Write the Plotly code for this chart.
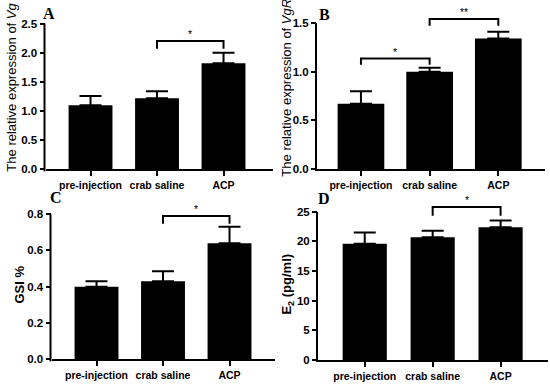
import plotly.graph_objects as go

# ---------------- data ----------------
groups = ["pre-injection", "crab saline", "ACP"]

vg_mean = [1.10, 1.22, 1.82]
vg_err = [0.16, 0.12, 0.18]

vgr_mean = [0.67, 1.00, 1.34]
vgr_err = [0.13, 0.04, 0.07]

gsi_mean = [0.40, 0.43, 0.64]
gsi_err = [0.03, 0.055, 0.09]

e2_mean = [19.6, 20.7, 22.4]
e2_err = [1.9, 1.1, 1.1]

# significance brackets: (from group, to group, bracket level, end level, label)
vg_sig = [(1, 2, 2.20, 2.07, "*")]
vgr_sig = [(0, 1, 1.135, 1.07, "*"), (1, 2, 1.54, 1.47, "**")]
gsi_sig = [(1, 2, 0.79, 0.747, "*")]
e2_sig = [(1, 2, 25.8, 24.3, "*")]

panel_letters = ["A", "B", "C", "D"]
y_titles = [
    "The relative expression of <i>Vg</i>",
    "The relative expression of <i>VgR</i>",
    "<b>GSI %</b>",
    "<b>E<sub>2</sub> (pg/ml)</b>",
]

# ---------------- layout geometry (pixels) ----------------
W, H = 550, 390
panels = [
    dict(mean=vg_mean, err=vg_err, sig=vg_sig, x_px=(45.5, 273), zero_px=172, top_px=24,
         top_val=2.5, rmax=2.85, dtick=0.5, fmt=".1f", xr=(-0.677, 2.744), bw=0.66,
         letter_px=(49, 14), title_px=(12, 89)),
    dict(mean=vgr_mean, err=vgr_err, sig=vgr_sig, x_px=(317, 545), zero_px=171.7, top_px=23.3,
         top_val=1.5, rmax=1.72, dtick=0.5, fmt=".1f", xr=(-0.64, 2.68), bw=0.68,
         letter_px=(324, 14.5), title_px=(287, 89)),
    dict(mean=gsi_mean, err=gsi_err, sig=gsi_sig, x_px=(51.5, 275), zero_px=365, top_px=217.5,
         top_val=0.8, rmax=0.9, dtick=0.2, fmt=".1f", xr=(-0.677, 2.684), bw=0.66,
         letter_px=(56, 201), title_px=(20, 289)),
    dict(mean=e2_mean, err=e2_err, sig=e2_sig, x_px=(318, 548), zero_px=365.7, top_px=215,
         top_val=25, rmax=28, dtick=5, fmt="d", xr=(-0.688, 2.698), bw=0.65,
         letter_px=(324, 202), title_px=(288, 289)),
]

FONT = "Liberation Sans, Arial, sans-serif"
fig = go.Figure()
annotations = []
shapes = []
layout_axes = {}

for k, p in enumerate(panels, start=1):
    xa = "x" if k == 1 else f"x{k}"
    ya = "y" if k == 1 else f"y{k}"
    xname = "xaxis" if k == 1 else f"xaxis{k}"
    yname = "yaxis" if k == 1 else f"yaxis{k}"

    fig.add_trace(go.Bar(
        x=groups, y=p["mean"], width=p["bw"],
        marker=dict(color="black", line=dict(width=0)),
        error_y=dict(type="data", array=p["err"], arrayminus=[0] * len(p["err"]),
                     symmetric=False, color="black", thickness=2, width=11),
        xaxis=xa, yaxis=ya, showlegend=False, hoverinfo="skip",
    ))

    for (i, j, yl, ye, lab) in p["sig"]:
        fig.add_trace(go.Scatter(
            x=[groups[i], groups[i], groups[j], groups[j]], y=[ye, yl, yl, ye],
            mode="lines", line=dict(color="black", width=2),
            xaxis=xa, yaxis=ya, showlegend=False, hoverinfo="skip",
        ))
        annotations.append(dict(
            x=(i + j) / 2, y=yl, xref=xa, yref=ya, text=lab, showarrow=False,
            yanchor="bottom", yshift=-1, font=dict(family=FONT, size=10.5, color="#000000"),
        ))

    scale = (p["zero_px"] - p["top_px"]) / p["top_val"]
    top_px = p["zero_px"] - p["rmax"] * scale
    x0f, x1f = p["x_px"][0] / W, p["x_px"][1] / W
    y0f, y1f = 1 - p["zero_px"] / H, 1 - top_px / H

    layout_axes[xname] = dict(
        domain=[x0f, x1f], range=list(p["xr"]), anchor=ya, type="category",
        showline=True, linecolor="black", linewidth=2, showgrid=False, zeroline=False,
        ticks="outside", ticklen=5, tickwidth=1.5, tickcolor="black",
        tickfont=dict(family=FONT, size=10.5, color="black", weight="bold"),
        fixedrange=True,
    )
    layout_axes[yname] = dict(
        domain=[y0f, y1f], range=[0, p["rmax"]], anchor=xa,
        tickmode="linear", tick0=0, dtick=p["dtick"], tickformat=p["fmt"],
        showline=False, showgrid=False, zeroline=False,
        ticks="outside", ticklen=5, tickwidth=1.5, tickcolor="black",
        tickfont=dict(family=FONT, size=11.5, color="black", weight="bold"),
        fixedrange=True,
    )
    # y-axis line: only from 0 up to the top tick (axis chrome, paper coordinates)
    lx_f = (p["x_px"][0] - 1) / W
    shapes.append(dict(
        type="line", xref="paper", yref="paper", x0=lx_f, x1=lx_f,
        y0=1 - (p["zero_px"] + 2) / H, y1=1 - p["top_px"] / H,
        line=dict(color="black", width=2), layer="above",
    ))

    lx, ly = p["letter_px"]
    annotations.append(dict(
        x=lx / W, y=1 - ly / H, xref="paper", yref="paper", text=f"<b>{panel_letters[k-1]}</b>",
        showarrow=False, xanchor="center", yanchor="middle",
        font=dict(family="Liberation Serif, Times New Roman, serif", size=16, color="black"),
    ))
    tx, ty = p["title_px"]
    annotations.append(dict(
        x=tx / W, y=1 - ty / H, xref="paper", yref="paper", text=y_titles[k-1],
        showarrow=False, xanchor="center", yanchor="middle", textangle=-90,
        font=dict(family=FONT, size=13, color="black"),
    ))

fig.update_layout(
    width=W, height=H, margin=dict(l=0, r=0, t=0, b=0),
    paper_bgcolor="white", plot_bgcolor="white",
    annotations=annotations, shapes=shapes, bargap=0.3,
    **layout_axes,
)

fig.write_html("out.html", config={"displayModeBar": False},
               post_script="document.body.style.margin='0px';")
